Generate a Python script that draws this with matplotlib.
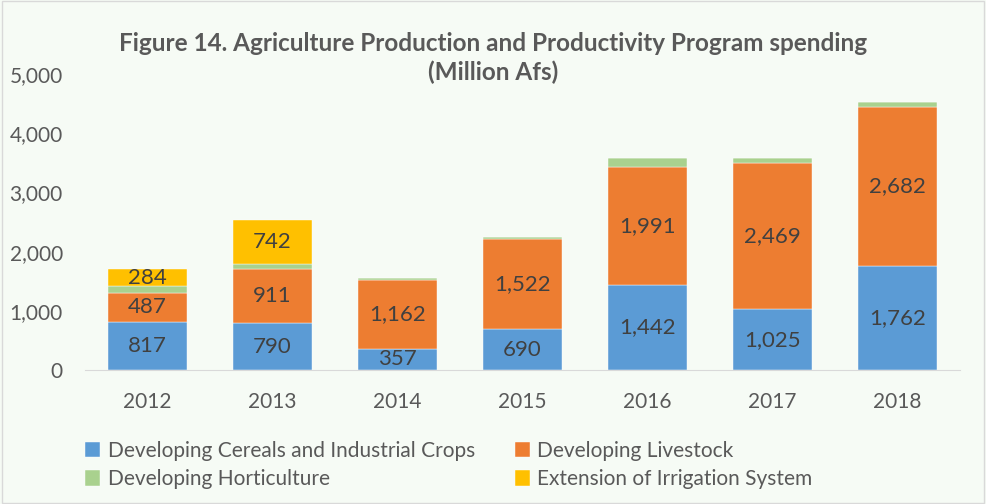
import matplotlib.pyplot as plt
from matplotlib.patches import Rectangle
import numpy as np

plt.rcParams['font.family'] = ['Lato', 'DejaVu Sans']

# Spending by sub-program, million Afs
years = ['2012', '2013', '2014', '2015', '2016', '2017', '2018']
cereals = [817, 790, 357, 690, 1442, 1025, 1762]
livestock = [487, 911, 1162, 1522, 1991, 2469, 2682]
horticulture = [113, 85, 28, 28, 150, 80, 85]
irrigation = [284, 742, 0, 0, 0, 0, 0]

series = [
    ('Developing Cereals and Industrial Crops', cereals, '#5B9BD5', True),
    ('Developing Livestock', livestock, '#ED7D31', True),
    ('Developing Horticulture', horticulture, '#A9D18E', False),
    ('Extension of Irrigation System', irrigation, '#FFC000', True),
]

bg = '#F6FBF5'
fig = plt.figure(figsize=(9.86, 5.04), dpi=100, facecolor=bg)
ax = fig.add_axes([85 / 986, 1 - 370 / 504, 875 / 986, 296 / 504])
ax.set_facecolor(bg)

x = np.arange(len(years))
bottom = np.zeros(len(years))
for name, vals, color, labelled in series:
    vals = np.array(vals, dtype=float)
    ax.bar(x, vals, 0.625, bottom=bottom, color=color, label=name,
           edgecolor='white', linewidth=0.3)
    if labelled:
        for xi, b, v in zip(x, bottom, vals):
            if v > 0:
                ax.text(xi, b + v / 2, f'{int(v):,}', ha='center', va='center',
                        fontsize=16, color='#404040')
    bottom += vals

ax.set_xlim(-0.5, len(years) - 0.5)
ax.set_ylim(0, 5000)
ax.set_yticks(range(0, 5001, 1000))
ax.set_yticklabels([f'{v:,}' for v in range(0, 5001, 1000)])
ax.set_xticks(x)
ax.set_xticklabels(years)
ax.tick_params(axis='both', length=0, labelsize=15, colors='#595959')
ax.tick_params(axis='x', pad=16)
ax.tick_params(axis='y', pad=16)
for s in ['top', 'right', 'left']:
    ax.spines[s].set_visible(False)
ax.spines['bottom'].set_color('#D9D9D9')

fig.text(493 / 986, 1 - 58 / 504,
         'Figure 14. Agriculture Production and Productivity Program spending\n(Million Afs)',
         ha='center', va='center', fontsize=17.5, fontweight='bold', color='#595959',
         linespacing=1.3)

handles, labels = ax.get_legend_handles_labels()
order = [0, 2, 1, 3]
fig.legend([handles[i] for i in order], [labels[i] for i in order],
           loc='center left', bbox_to_anchor=(66 / 986, 1 - 465 / 504), ncol=2,
           frameon=False, fontsize=15, handlelength=0.75, handleheight=0.75,
           handletextpad=0.35, columnspacing=1.9, labelspacing=0.42,
           labelcolor='#595959')

fig.patches.append(Rectangle((0.002, 0.002), 0.996, 0.996, transform=fig.transFigure,
                             fill=False, edgecolor='#D9D9D9', linewidth=1))

fig.savefig('out.png', dpi=100, facecolor=bg)
